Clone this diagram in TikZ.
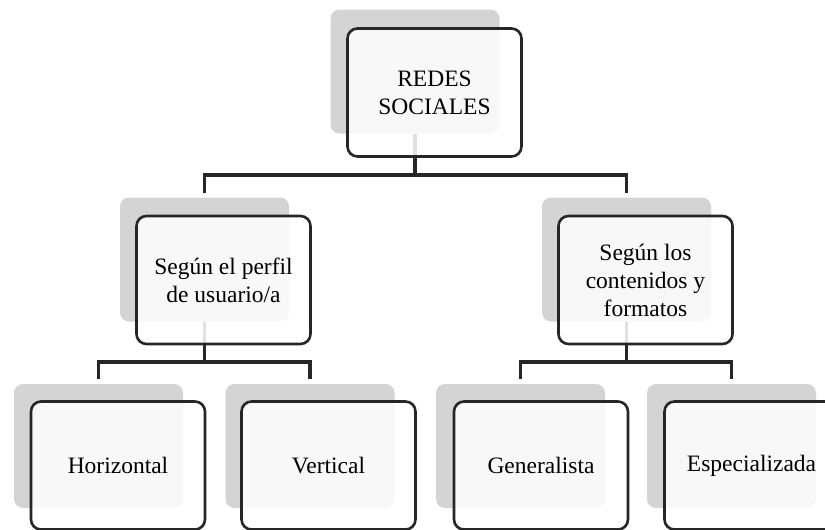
\documentclass[tikz,border=0pt]{standalone}
\usepackage{fontspec}
\setmainfont{Liberation Serif}
\usetikzlibrary{calc}
\definecolor{shadegray}{HTML}{D4D4D4}
\definecolor{inkgray}{HTML}{262626}

\begin{document}
\begin{tikzpicture}[x=1pt, y=-1pt,
	backbox/.style={fill=shadegray, rounded corners=9pt, minimum width=169pt, minimum height=124pt, inner sep=0pt},
	mainbox/.style={draw=inkgray, line width=2.6pt, fill=white, fill opacity=.86, text opacity=1, rounded corners=10pt, minimum width=174pt, minimum height=128pt, inner sep=0pt, align=center, font=\fontsize{23.5}{28}\selectfont},
	link/.style={draw=inkgray, line width=3.2pt}]
	\useasboundingbox (0,0) rectangle (825,530);
	% shadows
	\node [backbox] (redes-sh) at (415,71.5) {};
	\node [backbox] (perfil-sh) at (204.5,259.5) {};
	\node [backbox] (contenidos-sh) at (626.5,259.5) {};
	\node [backbox] (horizontal-sh) at (98.5,446) {};
	\node [backbox] (vertical-sh) at (310,446) {};
	\node [backbox] (generalista-sh) at (520.5,446) {};
	\node [backbox] (especializada-sh) at (731.5,446) {};
	% connectors
	\coordinate (fork1) at (415,175);
	\coordinate (fork2) at (204.5,362);
	\coordinate (fork3) at (626.5,362);
	\draw [link] (redes-sh.south) -- (fork1);
	\draw [link] ([yshift=4pt]perfil-sh.north) |- (fork1) -| ([yshift=4pt]contenidos-sh.north);
	\draw [link] (perfil-sh.south) -- (fork2);
	\draw [link] ([yshift=5pt]horizontal-sh.north) |- (fork2) -| ([yshift=5pt]vertical-sh.north);
	\draw [link] (contenidos-sh.south) -- (fork3);
	\draw [link] ([yshift=5pt]generalista-sh.north) |- (fork3) -| ([yshift=5pt]especializada-sh.north);
	% boxes
	\node [mainbox] (redes) at (434.5,92.5) {REDES\\SOCIALES};
	\node [mainbox] (perfil) at (223.5,280) {Según el perfil\\de usuario/a};
	\node [mainbox] (contenidos) at (645.5,280) {Según los\\contenidos y\\formatos};
	\node [mainbox] (horizontal) at (118,465.5) {Horizontal};
	\node [mainbox] (vertical) at (328.5,465.5) {Vertical};
	\node [mainbox] (generalista) at (541,465.5) {Generalista};
	\node [mainbox] (especializada) at (751.5,465.5) {Especializada};
\end{tikzpicture}
\end{document}
